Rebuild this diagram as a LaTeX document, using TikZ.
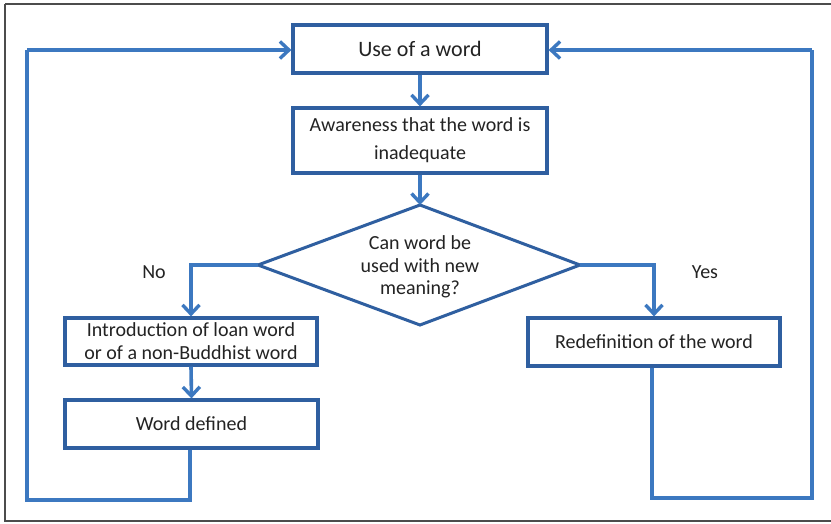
\documentclass[tikz,border=0pt]{standalone}
\usepackage{fontspec}
\setmainfont{Carlito}
\usetikzlibrary{arrows.meta,shapes.geometric}
\definecolor{boxblue}{RGB}{47,95,160}
\definecolor{linkblue}{RGB}{60,120,192}
\definecolor{txtgray}{RGB}{35,35,35}
\tikzset{
  flowbox/.style={draw=boxblue,line width=3.2pt,fill=white,text=txtgray,align=center,font=\fontsize{20}{23}\selectfont,inner sep=0pt},
  link/.style={draw=linkblue,line width=3.6pt,-{Straight Barb[length=9pt,width=17pt,line width=3.4pt]}},
  plainlink/.style={draw=linkblue,line width=3.6pt},
  lbl/.style={text=txtgray,font=\fontsize{20}{23}\selectfont},
}
\begin{document}
\begin{tikzpicture}[x=1pt,y=-1pt]
\useasboundingbox (0,0) rectangle (831,523);
\fill[white] (0,0) rectangle (831,523);
\draw[line width=2pt,draw=black!70] (5,4) -- (831,4);
\draw[line width=2pt,draw=black!70] (5,4) -- (5,521) -- (831,521);
% boxes
\node[flowbox,minimum width=254pt,minimum height=48pt,font=\fontsize{22}{26}\selectfont] (use) at (420,49) {Use of a word};
\node[flowbox,minimum width=254pt,minimum height=65pt,font=\fontsize{20}{28}\selectfont] (aware) at (420,140.5) {Awareness that the word is\\inadequate};
\draw[draw=boxblue,line width=3pt,fill=white] (420,205) -- (580,265) -- (420,325) -- (258,265) -- cycle;
\coordinate (dtop) at (420,205);
\coordinate (dleft) at (258,265);
\coordinate (dright) at (580,265);
\node[text=txtgray,align=center,font=\fontsize{20}{22.5}\selectfont] (q) at (420,267) {Can word be\\used with new\\meaning?};
\node[flowbox,minimum width=252pt,minimum height=47pt] (intro) at (191,341.5) {Introduction of loan word\\or of a non-Buddhist word};
\node[flowbox,minimum width=253pt,minimum height=48pt] (defined) at (191.5,424) {Word defined};
\node[flowbox,minimum width=252pt,minimum height=48pt] (redef) at (654,342) {Redefinition of the word};
% connectors
\draw[link] (use.south) -- (aware.north);
\draw[link] (aware.south) -- (dtop);
\draw[link] (dleft) -| (intro.north);
\draw[link] (dright) -| (redef.north);
\draw[link] (intro.south) -- (defined.north);
\coordinate (lb) at (190,500);
\coordinate (lc) at (27,500);
\coordinate (lt) at (27,50);
\draw[plainlink] (defined.south -| lb) -- (lb) -- (lc) -- (lt);
\draw[link] (lt) -- (use.west |- lt);
\coordinate (rb) at (652,498);
\coordinate (rc) at (812,498);
\coordinate (rt) at (812,50);
\draw[plainlink] (redef.south -| rb) -- (rb) -- (rc) -- (rt);
\draw[link] (rt) -- (use.east |- rt);
\node[lbl] (no) at (154,272) {No};
\node[lbl] (yes) at (705,272) {Yes};
\end{tikzpicture}
\end{document}
